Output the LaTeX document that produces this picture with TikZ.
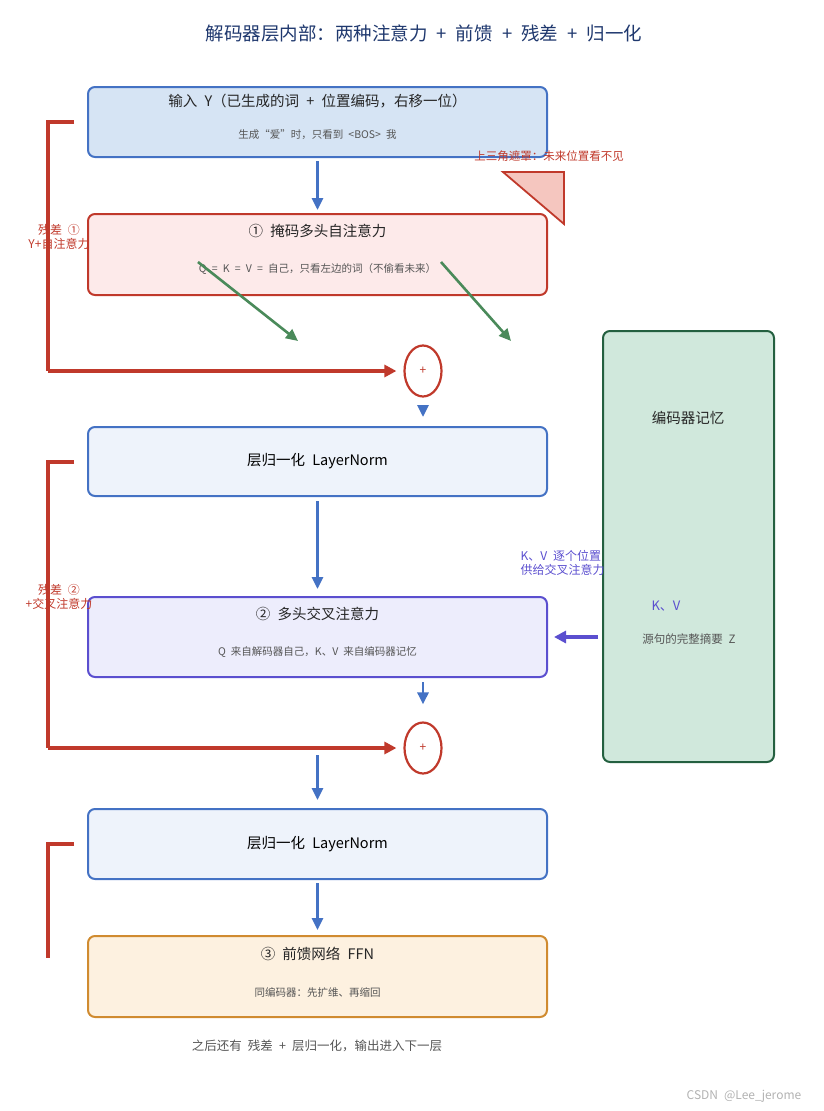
\documentclass[tikz,border=0pt]{standalone}
\usepackage{fontspec}
\setmainfont[WordSpace=2.2]{Noto Sans CJK SC}
\usetikzlibrary{arrows.meta, positioning, shapes.geometric}

\definecolor{titleblue}{RGB}{31,56,110}
\definecolor{lineblue}{RGB}{68,114,196}
\definecolor{fillblue}{RGB}{214,228,244}
\definecolor{paleblue}{RGB}{238,243,251}
\definecolor{resred}{RGB}{192,57,43}
\definecolor{fillred}{RGB}{253,234,234}
\definecolor{maskfill}{RGB}{245,198,191}
\definecolor{crosspurple}{RGB}{91,79,207}
\definecolor{fillpurple}{RGB}{237,237,252}
\definecolor{encgreen}{RGB}{36,96,64}
\definecolor{fillgreen}{RGB}{208,232,220}
\definecolor{qkvgreen}{RGB}{74,138,90}
\definecolor{ffnorange}{RGB}{208,139,48}
\definecolor{fillorange}{RGB}{253,241,224}
\definecolor{subgray}{RGB}{85,85,85}

\begin{document}
\begin{tikzpicture}[
    x=1pt, y=-1pt,
    box/.style   = {draw, rounded corners=7pt, line width=2pt,
                    minimum width=459pt, inner sep=0pt},
    ttl/.style   = {font=\fontsize{14.5}{16}\selectfont, text=black!85},
    sub/.style   = {font=\fontsize{10.5}{12}\selectfont, text=subgray},
    flow/.style  = {-{Triangle[length=12pt,width=11pt]}, line width=2.8pt, draw=lineblue},
    res/.style   = {line width=3.2pt, draw=resred},
    resflow/.style = {res, -{Triangle[length=12pt,width=12pt]}},
    reslbl/.style  = {font=\fontsize{12}{14}\selectfont, text=resred, align=center},
    plus/.style  = {ellipse, draw=resred, line width=2.2pt, fill=white,
                    minimum width=37pt, minimum height=51pt, inner sep=0pt,
                    text=resred, font=\fontsize{12}{14}\selectfont}
]
\useasboundingbox (0,0) rectangle (824,1111);

%% ── Titel ───────────────────────────────────────────────────────────────────
\node[font=\fontsize{18.5}{20}\selectfont, text=titleblue] (title) at (424,33)
    {解码器层内部：两种注意力 + 前馈 + 残差 + 归一化};

%% ── Hauptblöcke ─────────────────────────────────────────────────────────────
\node[box, draw=lineblue, fill=fillblue, minimum height=70pt] (inp) at (317.5,122) {};
\node[ttl] at ([yshift=-15pt]inp.north) {输入 Y（已生成的词 + 位置编码，右移一位）};
\node[sub] at ([yshift=-49pt]inp.north) {生成“爱”时，只看到 <BOS> 我};

\node[box, draw=resred, fill=fillred, minimum height=81pt] (self) at (317.5,254.5) {};
\node[ttl] at ([yshift=-18pt]self.north) {① 掩码多头自注意力};
\node[sub] at ([yshift=-56pt]self.north) {Q = K = V = 自己，只看左边的词（不偷看未来）};

\node[plus] (add1) at (423,371) {+};

\node[box, draw=lineblue, fill=paleblue, minimum height=69pt] (norm1) at (317.5,461.5)
    {\fontsize{14.5}{16}\selectfont 层归一化 LayerNorm};

\node[box, draw=crosspurple, fill=fillpurple, minimum height=80pt] (cross) at (317.5,637) {};
\node[ttl] at ([yshift=-18pt]cross.north) {② 多头交叉注意力};
\node[sub] at ([yshift=-56pt]cross.north) {Q 来自解码器自己，K、V 来自编码器记忆};

\node[plus] (add2) at (423,748) {+};

\node[box, draw=lineblue, fill=paleblue, minimum height=70pt] (norm2) at (317.5,844)
    {\fontsize{14.5}{16}\selectfont 层归一化 LayerNorm};

\node[box, draw=ffnorange, fill=fillorange, minimum height=81pt] (ffn) at (317.5,976.5) {};
\node[ttl] at ([yshift=-19pt]ffn.north) {③ 前馈网络 FFN};
\node[sub] at ([yshift=-57pt]ffn.north) {同编码器：先扩维、再缩回};

\node[font=\fontsize{12.5}{14}\selectfont, text=subgray] (after) at (317,1046)
    {之后还有 残差 + 层归一化，输出进入下一层};

%% ── Encoder-Speicher ────────────────────────────────────────────────────────
\node[draw=encgreen, fill=fillgreen, line width=2pt, rounded corners=7pt,
      minimum width=171pt, minimum height=431pt, inner sep=0pt] (enc) at (688.5,546.5) {};
\node[font=\fontsize{14.5}{16}\selectfont, text=black!85] (enclbl) at (688,418) {编码器记忆};
\node[font=\fontsize{13}{15}\selectfont, text=crosspurple] (kv) at (666,606) {K、V};
\node[font=\fontsize{11.5}{13}\selectfont, text=subgray] (zsum) at (689,639) {源句的完整摘要 Z};

%% ── Hauptfluss ──────────────────────────────────────────────────────────────
\draw[flow, shorten <=3pt, shorten >=3pt] (inp.south) -- (self.north);
\draw[flow, shorten <=11pt, shorten >=9pt] (add1.south) -- (add1.south |- norm1.north);
\draw[flow, shorten <=4pt, shorten >=7pt] (norm1.south) -- (cross.north);
\draw[flow, shorten <=4pt, shorten >=17pt] (cross.south -| add2) -- (add2.north);
\draw[flow, shorten <=7pt, shorten >=8pt] (norm2.north |- add2.east) -- (norm2.north);
\draw[flow, shorten <=3pt, shorten >=5pt] (norm2.south) -- (ffn.north);

%% ── Q, K, V aus dem Selbstaufmerksamkeitsblock ──────────────────────────────
\coordinate (q1s) at (198,262);  \coordinate (q1e) at (298,341);
\coordinate (q2s) at (441,262);  \coordinate (q2e) at (511,341);
\draw[-{Triangle[length=12pt,width=11pt]}, line width=2.6pt, qkvgreen] (q1s) -- (q1e);
\draw[-{Triangle[length=12pt,width=11pt]}, line width=2.6pt, qkvgreen] (q2s) -- (q2e);

%% ── Maske ───────────────────────────────────────────────────────────────────
\node[font=\fontsize{11.5}{13}\selectfont, text=resred] (masklbl) at (549,156)
    {上三角遮罩：未来位置看不见};
\draw[resred, line width=1.8pt, fill=maskfill] (503,172) -- (564,172) -- (564,224) -- cycle;

%% ── Kreuzaufmerksamkeit: K, V aus dem Encoder ───────────────────────────────
\draw[-{Triangle[length=12pt,width=12pt]}, line width=3.2pt, crosspurple,
      shorten <=4pt, shorten >=6pt] (enc.west |- cross.east) -- (cross.east);
\node[font=\fontsize{12}{14}\selectfont, text=crosspurple, align=left, anchor=west]
    (kvlbl) at (517,563) {K、V 逐个位置\\供给交叉注意力};

%% ── Residualverbindungen ────────────────────────────────────────────────────
\coordinate (r1tick) at (74,122);  \coordinate (r1top) at (48,122);  \coordinate (r1bot) at (48,371);
\draw[res] (r1tick) -- (r1top) -- (r1bot);
\draw[resflow, shorten >=7pt] (r1bot) -- (add1.west);
\node[reslbl] (r1lbl) at (59,237) {残差 ①\\Y+自注意力};

\coordinate (r2tick) at (74,462);  \coordinate (r2top) at (48,462);  \coordinate (r2bot) at (48,748);
\draw[res] (r2tick) -- (r2top) -- (r2bot);
\draw[resflow, shorten >=7pt] (r2bot) -- (add2.west);
\node[reslbl] (r2lbl) at (59,597) {残差 ②\\+交叉注意力};

\coordinate (r3tick) at (74,844);  \coordinate (r3top) at (48,844);  \coordinate (r3bot) at (48,958);
\draw[res] (r3tick) -- (r3top) -- (r3bot);

%% ── Wasserzeichen ───────────────────────────────────────────────────────────
\node[font=\fontsize{12}{14}\selectfont, text=black!30] (mark) at (744,1096) {CSDN @Lee\_jerome};

\end{tikzpicture}
\end{document}
